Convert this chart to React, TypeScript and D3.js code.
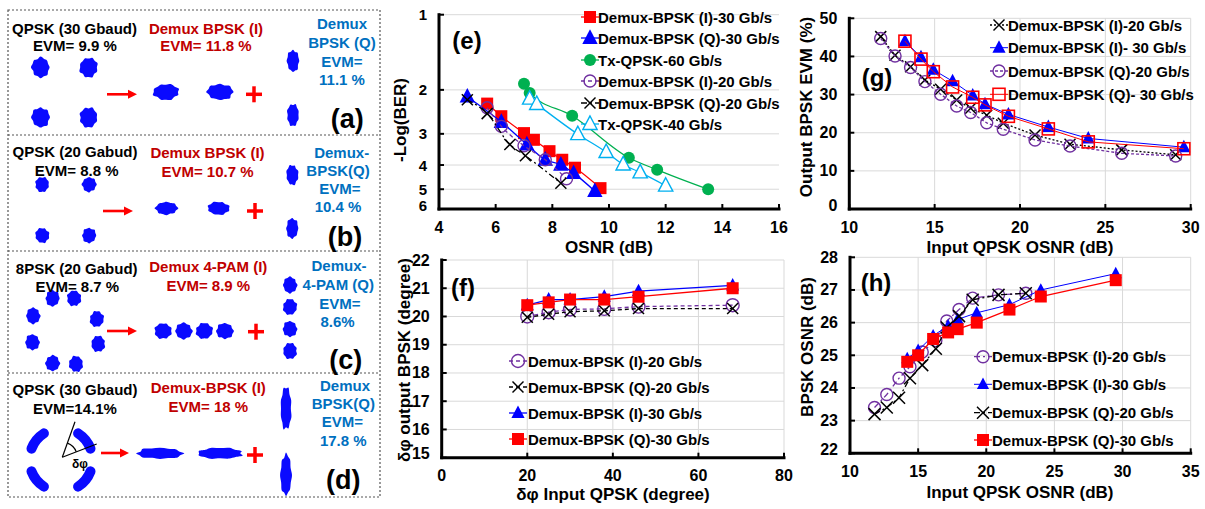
import React from "react";
import * as d3 from "d3";

const FONT = "'Liberation Sans', Arial, Helvetica, sans-serif";
const RED = "#ff0000";
const BLUE = "#0000ff";
const GREEN = "#00b050";
const SKY = "#00b0f0";
const PURPLE = "#7030a0";
const DKRED = "#c00000";
const TXTBLUE = "#0070c0";
const DOTS = "#0a0aff";

// ---------- (e) -Log(BER) vs OSNR ----------
const eXTicks = [4, 6, 8, 10, 12, 14, 16];
const eYTicks = [1, 2, 3, 4, 5, 6];
const eOsnrI30 = [5.7, 6.2, 7.0, 7.35, 7.9, 8.35, 8.8, 9.7];
const eBerI30 = [2.27, 2.55, 2.98, 3.17, 3.52, 3.81, 4.1, 4.95];
const eOsnrQ30 = [5.0, 6.2, 7.1, 7.75, 8.3, 8.75, 9.5];
const eBerQ30 = [2.13, 2.69, 3.31, 3.81, 3.99, 4.31, 5.09];
const eOsnrTx60 = [7.0, 7.2, 8.7, 10.7, 11.7, 13.5];
const eBerTx60 = [1.89, 2.06, 2.54, 3.74, 4.18, 5.0];
const eOsnrI20 = [5.7, 6.2, 7.0, 7.75, 8.5];
const eBerI20 = [2.36, 2.8, 3.35, 3.81, 4.54];
const eOsnrQ20 = [5.0, 5.7, 6.5, 7.05, 8.3];
const eBerQ20 = [2.19, 2.49, 3.31, 3.67, 4.73];
const eOsnrTx40 = [7.2, 7.45, 8.9, 9.9, 10.5, 11.1, 12.0];
const eBerTx40 = [2.17, 2.28, 3.01, 3.55, 3.98, 4.28, 4.84];

// ---------- (f) output phase error vs input phase error ----------
const fXTicks = [0, 20, 40, 60, 80];
const fYTicks = [15, 16, 17, 18, 19, 20, 21, 22];
const fPhaseIn = [20, 25, 30, 38, 46, 68];
const fI20 = [20.0, 20.15, 20.25, 20.27, 20.35, 20.4];
const fQ20 = [19.97, 20.08, 20.17, 20.2, 20.28, 20.28];
const fI30 = [20.4, 20.6, 20.6, 20.7, 20.9, 21.1];
const fQ30 = [20.4, 20.5, 20.6, 20.6, 20.7, 21.0];

// ---------- (g) output EVM vs input OSNR ----------
const gXTicks = [10, 15, 20, 25, 30];
const gYTicks = [0, 10, 20, 30, 40, 50];
const gOsnr20 = [11.84, 12.68, 13.59, 14.43, 15.35, 16.29, 17.11, 18.05, 19.02, 20.88, 22.93, 25.96, 29.12];
const gEvmI20 = [45.2, 40.3, 37.3, 33.8, 31.4, 28.6, 26.4, 24.6, 22.5, 19.4, 17.0, 15.5, 14.2];
const gEvmQ20 = [44.7, 40.1, 37.1, 33.4, 30.1, 27.0, 25.3, 22.6, 20.9, 18.1, 16.5, 14.6, 13.9];
const gOsnr30 = [13.26, 14.2, 14.92, 16.05, 17.23, 17.95, 19.32, 21.66, 24.0, 29.6];
const gEvmI30 = [44.0, 39.8, 36.5, 33.5, 29.8, 27.5, 24.8, 21.5, 18.5, 16.2];
const gEvmQ30 = [44.0, 39.3, 36.0, 32.0, 29.3, 27.3, 24.3, 21.0, 17.6, 15.8];

// ---------- (h) output OSNR vs input OSNR ----------
const hXTicks = [10, 15, 20, 25, 30, 35];
const hYTicks = [22, 23, 24, 25, 26, 27, 28];
const hOsnr20 = [11.8, 12.7, 13.6, 14.4, 15.3, 16.3, 17.1, 18.0, 19.0, 20.9, 22.9];
const hI20 = [23.4, 23.8, 24.3, 24.65, 25.1, 25.45, 26.05, 26.4, 26.75, 26.85, 26.9];
const hQ20 = [23.2, 23.4, 23.7, 24.3, 24.7, 25.2, 25.85, 26.2, 26.7, 26.85, 26.9];
const hOsnr30 = [14.2, 15.0, 16.1, 17.2, 17.9, 19.3, 21.7, 24.0, 29.5];
const hI30 = [24.9, 25.15, 25.6, 25.9, 26.1, 26.3, 26.55, 27.0, 27.5];
const hQ30 = [24.8, 25.0, 25.5, 25.7, 25.8, 26.0, 26.4, 26.8, 27.3];

// ---------- constellation symbols (I, Q) ----------
const qpskSym = [[-1, 1], [1, 1], [-1, -1], [1, -1]];
const bpskISym = [[-1, 0], [1, 0]];
const bpskQSym = [[0, 1], [0, -1]];
const psk8Sym = [[-0.39, 0.99], [0.26, 0.99], [-0.98, 0.46], [0.95, 0.36], [-1, -0.34], [0.99, -0.39], [-0.39, -0.98], [0.32, -1]];
const pam4ISym = [[-3, 0], [-1, 0], [1, 0], [3, 0]];
const pam4QSym = [[0, 3], [0, 1], [0, -1], [0, -3]];

type Mk = "square" | "squareOpen" | "triangle" | "triangleOpen" | "circle" | "circleOpen" | "x";

interface Series {
  name: string;
  xs: number[];
  ys: number[];
  color: string;
  mk: Mk;
  size: number;
  dash?: string;
  lw?: number;
}

function Marker({ mk, x, y, color, s }: { mk: Mk; x: number; y: number; color: string; s: number }) {
  const h = s / 2;
  switch (mk) {
    case "square":
      return <rect x={x - h} y={y - h} width={s} height={s} fill={color} />;
    case "squareOpen":
      return <rect x={x - h} y={y - h} width={s} height={s} fill="none" stroke={color} strokeWidth={1.6} />;
    case "triangle":
    case "triangleOpen": {
      const d = `M${x},${y - s * 0.62}L${x - s * 0.55},${y + s * 0.42}L${x + s * 0.55},${y + s * 0.42}Z`;
      return mk === "triangle" ? (
        <path d={d} fill={color} />
      ) : (
        <path d={d} fill="#fff" stroke={color} strokeWidth={1.4} />
      );
    }
    case "circle":
      return <circle cx={x} cy={y} r={h} fill={color} />;
    case "circleOpen":
      return <circle cx={x} cy={y} r={h} fill="none" stroke={color} strokeWidth={1.4} />;
    case "x":
      return (
        <g stroke={color} strokeWidth={1.5}>
          <line x1={x - h} y1={y - h} x2={x + h} y2={y + h} />
          <line x1={x - h} y1={y + h} x2={x + h} y2={y - h} />
        </g>
      );
  }
  return null;
}

interface ChartCfg {
  box: { l: number; r: number; t: number; b: number };
  xDomain: [number, number];
  yDomain: [number, number];
  yLog?: boolean;
  curve?: boolean;
  xTicks: number[];
  yTicks: number[];
  vGrid: number[];
  hGrid: number[];
  series: Series[];
  legend: { mx: number; tx: number; ys: number[] };
  tag: { text: string; x: number; y: number };
  xTitle: { text: string; x: number; y: number };
  yTitle: { text: string; x: number; y: number };
}

function Chart({ c }: { c: ChartCfg }) {
  const { l, r, t, b } = c.box;
  const x = d3.scaleLinear().domain(c.xDomain).range([l, r]);
  const y = c.yLog
    ? d3.scaleLog().domain(c.yDomain).range([t, b])
    : d3.scaleLinear().domain(c.yDomain).range([b, t]);
  const grid = "#d9d9d9";

  return (
    <g>
      {c.hGrid.map((v) => (
        <line key={"h" + v} x1={l} x2={r} y1={y(v)} y2={y(v)} stroke={grid} strokeWidth={1} />
      ))}
      {c.vGrid.map((v) => (
        <line key={"v" + v} x1={x(v)} x2={x(v)} y1={t} y2={b} stroke={grid} strokeWidth={1} />
      ))}

      {c.series.map((s, i) => {
        const line = d3
          .line<number>()
          .x((_, k) => x(s.xs[k]))
          .y((v) => y(v))
          .curve(c.curve ? d3.curveMonotoneX : d3.curveLinear);
        return (
          <g key={i}>
            <path d={line(s.ys) || ""} fill="none" stroke={s.color} strokeWidth={s.lw ?? 1.3} strokeDasharray={s.dash} />
            {s.ys.map((v, k) => (
              <Marker key={k} mk={s.mk} x={x(s.xs[k])} y={y(v)} color={s.color} s={s.size} />
            ))}
          </g>
        );
      })}

      {/* axes */}
      <line x1={l} x2={l} y1={t} y2={b} stroke="#000" strokeWidth={3} strokeLinecap="square" />
      <line x1={l} x2={r} y1={b} y2={b} stroke="#000" strokeWidth={3} strokeLinecap="square" />
      {c.xTicks.map((v) => (
        <g key={"xt" + v}>
          <line x1={x(v)} x2={x(v)} y1={b} y2={b - 5} stroke="#000" strokeWidth={2} />
          <text x={x(v)} y={b + 18} textAnchor="middle" dominantBaseline="central" fontSize={16}>
            {v}
          </text>
        </g>
      ))}
      {c.yTicks.map((v) => (
        <g key={"yt" + v}>
          <line x1={l} x2={l + 5} y1={y(v)} y2={y(v)} stroke="#000" strokeWidth={2} />
          <text x={l - 12} y={Math.min(y(v), b - 4)} textAnchor="end" dominantBaseline="central" fontSize={c.yLog ? 15 : 16}>
            {v}
          </text>
        </g>
      ))}

      <text x={c.tag.x} y={c.tag.y} textAnchor="middle" dominantBaseline="central" fontSize={24}>
        {c.tag.text}
      </text>
      <text x={c.xTitle.x} y={c.xTitle.y} textAnchor="middle" dominantBaseline="central" fontSize={17}>
        {c.xTitle.text}
      </text>
      <text
        transform={`translate(${c.yTitle.x},${c.yTitle.y}) rotate(-90)`}
        textAnchor="middle"
        dominantBaseline="central"
        fontSize={17}
      >
        {c.yTitle.text}
      </text>

      {c.series.map((s, i) => {
        const ly = c.legend.ys[i];
        return (
          <g key={"lg" + i}>
            <line x1={c.legend.mx - 9} x2={c.legend.mx + 9} y1={ly} y2={ly} stroke={s.color} strokeWidth={s.lw ?? 1.3} strokeDasharray={s.dash} />
            <Marker mk={s.mk} x={c.legend.mx} y={ly} color={s.color} s={s.size} />
            <text x={c.legend.tx} y={ly} dominantBaseline="central" fontSize={15}>
              {s.name}
            </text>
          </g>
        );
      })}
    </g>
  );
}

const charts: ChartCfg[] = [
  {
    box: { l: 439, r: 779, t: 14.7, b: 209 },
    xDomain: [4, 16],
    yDomain: [1, 6],
    yLog: true,
    curve: true,
    xTicks: eXTicks,
    yTicks: eYTicks,
    vGrid: [],
    hGrid: [1, 2, 3, 4, 5],
    series: [
      { name: "Demux-BPSK (I)-30 Gb/s", xs: eOsnrI30, ys: eBerI30, color: RED, mk: "square", size: 12 },
      { name: "Demux-BPSK (Q)-30 Gb/s", xs: eOsnrQ30, ys: eBerQ30, color: BLUE, mk: "triangle", size: 14 },
      { name: "Tx-QPSK-60 Gb/s", xs: eOsnrTx60, ys: eBerTx60, color: GREEN, mk: "circle", size: 12 },
      { name: "Demux-BPSK (I)-20 Gb/s", xs: eOsnrI20, ys: eBerI20, color: PURPLE, mk: "circleOpen", size: 12, dash: "4,3" },
      { name: "Demux-BPSK (Q)-20 Gb/s", xs: eOsnrQ20, ys: eBerQ20, color: "#000", mk: "x", size: 11, dash: "6,3,2,3" },
      { name: "Tx-QPSK-40 Gb/s", xs: eOsnrTx40, ys: eBerTx40, color: SKY, mk: "triangleOpen", size: 13 },
    ],
    legend: { mx: 590, tx: 598, ys: [17, 38, 60, 81, 103, 124] },
    tag: { text: "(e)", x: 467, y: 40 },
    xTitle: { text: "OSNR (dB)", x: 609, y: 247 },
    yTitle: { text: "-Log(BER)", x: 400, y: 120 },
  },
  {
    box: { l: 441.7, r: 784, t: 260, b: 457.7 },
    xDomain: [0, 80],
    yDomain: [15, 22],
    xTicks: fXTicks,
    yTicks: fYTicks,
    vGrid: [20, 40, 60, 80],
    hGrid: [16, 17, 18, 19, 20, 21, 22],
    series: [
      { name: "Demux-BPSK (I)-20 Gb/s", xs: fPhaseIn, ys: fI20, color: PURPLE, mk: "circleOpen", size: 13, dash: "4,3" },
      { name: "Demux-BPSK (Q)-20 Gb/s", xs: fPhaseIn, ys: fQ20, color: "#000", mk: "x", size: 11, dash: "4,3" },
      { name: "Demux-BPSK (I)-30 Gb/s", xs: fPhaseIn, ys: fI30, color: BLUE, mk: "triangle", size: 12 },
      { name: "Demux-BPSK (Q)-30 Gb/s", xs: fPhaseIn, ys: fQ30, color: RED, mk: "square", size: 12 },
    ],
    legend: { mx: 518, tx: 528, ys: [361, 387, 413, 439] },
    tag: { text: "(f)", x: 463, y: 287 },
    xTitle: { text: "δφ Input QPSK (degree)", x: 613, y: 494 },
    yTitle: { text: "δφ output BPSK (degree)", x: 404, y: 360 },
  },
  {
    box: { l: 849.3, r: 1190.7, t: 18.3, b: 209 },
    xDomain: [10, 30],
    yDomain: [0, 50],
    xTicks: gXTicks,
    yTicks: gYTicks,
    vGrid: [15, 20, 25, 30],
    hGrid: [10, 20, 30, 40, 50],
    series: [
      { name: "Demux-BPSK (I)-20 Gb/s", xs: gOsnr20, ys: gEvmI20, color: "#000", mk: "x", size: 11, dash: "2,2" },
      { name: "Demux-BPSK (I)- 30 Gb/s", xs: gOsnr30, ys: gEvmI30, color: BLUE, mk: "triangle", size: 12, lw: 1 },
      { name: "Demux-BPSK (Q)-20 Gb/s", xs: gOsnr20, ys: gEvmQ20, color: PURPLE, mk: "circleOpen", size: 12, dash: "3,2" },
      { name: "Demux-BPSK (Q)- 30 Gb/s", xs: gOsnr30, ys: gEvmQ30, color: RED, mk: "squareOpen", size: 12, lw: 1 },
    ],
    legend: { mx: 999, tx: 1008, ys: [25, 47.7, 71, 94.3] },
    tag: { text: "(g)", x: 877, y: 77 },
    xTitle: { text: "Input QPSK OSNR (dB)", x: 1020, y: 247 },
    yTitle: { text: "Output BPSK EVM (%)", x: 806, y: 107 },
  },
  {
    box: { l: 850, r: 1190.7, t: 257.3, b: 453.3 },
    xDomain: [10, 35],
    yDomain: [22, 28],
    xTicks: hXTicks,
    yTicks: hYTicks,
    vGrid: [15, 20, 25, 30, 35],
    hGrid: [23, 24, 25, 26, 27, 28],
    series: [
      { name: "Demux-BPSK (I)-20 Gb/s", xs: hOsnr20, ys: hI20, color: PURPLE, mk: "circleOpen", size: 12, dash: "6,3,2,3" },
      { name: "Demux-BPSK (I)-30 Gb/s", xs: hOsnr30, ys: hI30, color: BLUE, mk: "triangle", size: 11, lw: 1 },
      { name: "Demux-BPSK (Q)-20 Gb/s", xs: hOsnr20, ys: hQ20, color: "#000", mk: "x", size: 12, dash: "6,3,2,3" },
      { name: "Demux-BPSK (Q)-30 Gb/s", xs: hOsnr30, ys: hQ30, color: RED, mk: "square", size: 12 },
    ],
    legend: { mx: 983, tx: 992, ys: [356.7, 384.3, 412.7, 440] },
    tag: { text: "(h)", x: 876, y: 282 },
    xTitle: { text: "Input QPSK OSNR (dB)", x: 1020, y: 492 },
    yTitle: { text: "BPSK OSNR (dB)", x: 807, y: 347 },
  },
];

// ---------- left constellation panels ----------
const bump = [1, 0.9, 1.06, 0.95, 1.08, 0.92, 1.02, 0.88, 1.07, 0.96, 1.04, 0.9, 1.09, 0.94, 1.0, 0.91];

function blobPath(cx: number, cy: number, rx: number, ry: number, k: number) {
  const n = bump.length;
  const pts: [number, number][] = bump.map((_, i) => {
    const th = (i / n) * Math.PI * 2;
    const f = bump[(i + k * 5) % n];
    return [cx + rx * f * Math.cos(th), cy + ry * f * Math.sin(th)];
  });
  return d3.line().curve(d3.curveCatmullRomClosed)(pts) || "";
}

interface Const {
  sym: number[][];
  cx: number;
  cy: number;
  sx: number;
  sy: number;
  rx: number;
  ry: number;
  ring?: boolean;
}

const consts: Const[] = [
  { sym: qpskSym, cx: 64.6, cy: 92.5, sx: 24, sy: 25, rx: 9, ry: 10 },
  { sym: bpskISym, cx: 193, cy: 92, sx: 27, sy: 0, rx: 13, ry: 8 },
  { sym: bpskQSym, cx: 293, cy: 88, sx: 0, sy: 27, rx: 6, ry: 11 },
  { sym: qpskSym, cx: 65.7, cy: 210, sx: 23.5, sy: 25.5, rx: 7, ry: 7.5 },
  { sym: bpskISym, cx: 192.5, cy: 208.3, sx: 26, sy: 0, rx: 11, ry: 6.5 },
  { sym: bpskQSym, cx: 292.3, cy: 201.7, sx: 0, sy: 26.7, rx: 6, ry: 10 },
  { sym: psk8Sym, cx: 65.5, cy: 331, sx: 33, sy: 33, rx: 7, ry: 8 },
  { sym: pam4ISym, cx: 194, cy: 331, sx: 10.3, sy: 0, rx: 8.5, ry: 8 },
  { sym: pam4QSym, cx: 290, cy: 318, sx: 0, sy: 11, rx: 7, ry: 8 },
  { sym: qpskSym, cx: 61, cy: 460, sx: 24.5, sy: 20, rx: 10, ry: 5, ring: true },
  { sym: bpskISym, cx: 190, cy: 453.3, sx: 30, sy: 0, rx: 23, ry: 5.5 },
  { sym: bpskQSym, cx: 286, cy: 441.7, sx: 0, sy: 33.3, rx: 5.5, ry: 21 },
];

const arrows = [
  { x1: 107, x2: 137, y: 94.3 },
  { x1: 103, x2: 133, y: 211 },
  { x1: 107, x2: 137, y: 331 },
  { x1: 101, x2: 129, y: 453 },
];
const pluses = [
  { x: 254, y: 94.3 },
  { x: 255, y: 211 },
  { x: 256, y: 331.7 },
  { x: 255, y: 455 },
];

type T = [string, number, number, string];
const leftTexts: T[] = [
  ["QPSK (30 Gbaud)", 74.5, 28.3, "#000"],
  ["EVM= 9.9 %", 75, 45, "#000"],
  ["Demux BPSK (I)", 206, 28.3, DKRED],
  ["EVM= 11.8 %", 206, 45, DKRED],
  ["Demux", 342, 23.3, TXTBLUE],
  ["BPSK (Q)", 342, 42.3, TXTBLUE],
  ["EVM=", 342, 61, TXTBLUE],
  ["11.1 %", 342, 79, TXTBLUE],

  ["QPSK (20 Gabud)", 75, 151.7, "#000"],
  ["EVM= 8.8 %", 76.7, 170.7, "#000"],
  ["Demux BPSK (I)", 207.5, 152.7, DKRED],
  ["EVM= 10.7 %", 207.5, 171.7, DKRED],
  ["Demux-", 341.7, 152.7, TXTBLUE],
  ["BPSK(Q)", 338, 170, TXTBLUE],
  ["EVM=", 340, 188.3, TXTBLUE],
  ["10.4 %", 338, 206.7, TXTBLUE],

  ["8PSK (20 Gabud)", 76.7, 268.3, "#000"],
  ["EVM= 8.7 %", 77.3, 286.7, "#000"],
  ["Demux 4-PAM (I)", 208.3, 266.7, DKRED],
  ["EVM= 8.9 %", 208.3, 285, DKRED],
  ["Demux-", 339, 265, TXTBLUE],
  ["4-PAM (Q)", 338.3, 284.3, TXTBLUE],
  ["EVM=", 340, 303.3, TXTBLUE],
  ["8.6%", 337.5, 321.7, TXTBLUE],

  ["QPSK (30 Gbaud)", 75, 389, "#000"],
  ["EVM=14.1%", 75, 408.3, "#000"],
  ["Demux-BPSK (I)", 208.3, 387.7, DKRED],
  ["EVM= 18 %", 208.3, 406.7, DKRED],
  ["Demux", 345, 385, TXTBLUE],
  ["BPSK(Q)", 343.3, 403.3, TXTBLUE],
  ["EVM=", 342.5, 421.7, TXTBLUE],
  ["17.8 %", 343.3, 440, TXTBLUE],
];

const tags = [
  ["(a)", 347.3, 119],
  ["(b)", 345, 237.3],
  ["(c)", 345.7, 360],
  ["(d)", 343.3, 480],
] as const;

function LeftPanels() {
  // phase-error angle annotation in (d)
  const vx = 62.3, vy = 457.3;
  const p1 = [75, 421.7], p2 = [96.7, 444];
  const a1 = Math.atan2(p1[1] - vy, p1[0] - vx);
  const a2 = Math.atan2(p2[1] - vy, p2[0] - vx);
  const rr = 15;
  const arc = `M${vx + rr * Math.cos(a1)},${vy + rr * Math.sin(a1)}A${rr},${rr} 0 0 1 ${vx + rr * Math.cos(a2)},${vy + rr * Math.sin(a2)}`;

  return (
    <g>
      <rect x={8} y={10} width={372} height={487} fill="none" stroke="#555" strokeWidth={1.2} strokeDasharray="2,2" />
      {[135, 251, 373].map((yy) => (
        <line key={yy} x1={8} x2={380} y1={yy} y2={yy} stroke="#555" strokeWidth={1.2} strokeDasharray="2,2" />
      ))}

      {consts.map((c, ci) => {
        const sx = d3.scaleLinear().domain([-1, 1]).range([c.cx - c.sx, c.cx + c.sx]);
        const sy = d3.scaleLinear().domain([-1, 1]).range([c.cy + c.sy, c.cy - c.sy]);
        return (
          <g key={ci} fill={DOTS}>
            {c.sym.map(([i, q], k) => {
              const px = sx(i), py = sy(q);
              if (c.ring) {
                // phase-noise smeared symbols lie on arcs of the constellation circle
                const R = Math.hypot(px - c.cx, py - c.cy);
                const th = Math.atan2(py - c.cy, px - c.cx);
                const dt = c.rx / R;
                const arcD = `M${c.cx + R * Math.cos(th - dt)},${c.cy + R * Math.sin(th - dt)}A${R},${R} 0 0 1 ${c.cx + R * Math.cos(th + dt)},${c.cy + R * Math.sin(th + dt)}`;
                return <path key={k} d={arcD} fill="none" stroke={DOTS} strokeWidth={c.ry * 2} strokeLinecap="round" />;
              }
              return <path key={k} d={blobPath(px, py, c.rx, c.ry, k + ci)} />;
            })}
          </g>
        );
      })}

      {arrows.map((a, i) => (
        <g key={i} fill={RED} stroke={RED}>
          <line x1={a.x1} x2={a.x2 - 6} y1={a.y} y2={a.y} strokeWidth={2.6} />
          <path d={`M${a.x2},${a.y}L${a.x2 - 9},${a.y - 4.5}L${a.x2 - 9},${a.y + 4.5}Z`} stroke="none" />
        </g>
      ))}
      {pluses.map((p, i) => (
        <g key={i} stroke={RED} strokeWidth={3.5}>
          <line x1={p.x - 8} x2={p.x + 8} y1={p.y} y2={p.y} />
          <line x1={p.x} x2={p.x} y1={p.y - 8} y2={p.y + 8} />
        </g>
      ))}

      <g stroke="#000" strokeWidth={1.2} fill="none">
        <line x1={vx} y1={vy} x2={p1[0]} y2={p1[1]} />
        <line x1={vx} y1={vy} x2={p2[0]} y2={p2[1]} />
        <path d={arc} />
      </g>
      <text x={80} y={464} textAnchor="middle" dominantBaseline="central" fontSize={12}>
        δφ
      </text>

      {leftTexts.map(([s, x, y, col], i) => (
        <text key={i} x={x} y={y} fill={col} textAnchor="middle" dominantBaseline="central" fontSize={15}>
          {s}
        </text>
      ))}
      {tags.map(([s, x, y]) => (
        <text key={s} x={x} y={y} textAnchor="middle" dominantBaseline="central" fontSize={27}>
          {s}
        </text>
      ))}
    </g>
  );
}

export default function App() {
  return (
    <svg
      width={1205}
      height={509}
      style={{ position: "absolute", left: 0, top: 0, background: "#fff" }}
      fontFamily={FONT}
      fontWeight="bold"
    >
      <rect width={1205} height={509} fill="#fff" />
      <LeftPanels />
      {charts.map((c, i) => (
        <Chart key={i} c={c} />
      ))}
    </svg>
  );
}
